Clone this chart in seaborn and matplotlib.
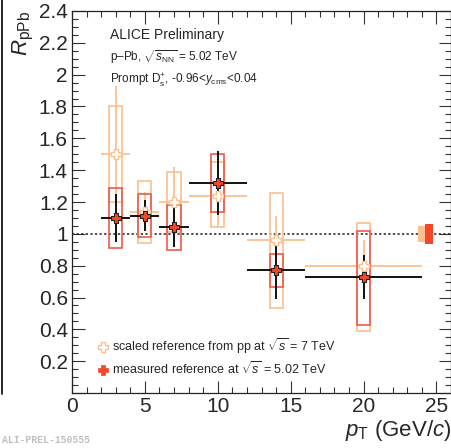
import seaborn as sns
import matplotlib.pyplot as plt
import numpy as np
import pandas as pd
from matplotlib.lines import Line2D
from matplotlib.ticker import MultipleLocator, FuncFormatter

# pT bins (GeV/c)
pt = np.array([3, 5, 7, 10, 14, 20])
pt_lo = np.array([2, 4, 6, 8, 12, 16])
pt_hi = np.array([4, 6, 8, 12, 16, 24])

# measured pp reference at 5.02 TeV
meas = np.array([1.10, 1.115, 1.04, 1.32, 0.77, 0.73])
meas_stat = np.array([0.15, 0.10, 0.12, 0.20, 0.18, 0.14])
meas_syst_lo = np.array([0.91, 0.98, 0.90, 1.14, 0.665, 0.43])
meas_syst_hi = np.array([1.29, 1.25, 1.18, 1.50, 0.876, 1.02])

# scaled pp reference from 7 TeV
scaled = np.array([1.50, 1.14, 1.20, 1.24, 0.96, 0.80])
scaled_stat = np.array([0.43, 0.12, 0.22, 0.20, 0.15, 0.16])
scaled_syst_lo = np.array([1.20, 0.94, 1.01, 1.04, 0.535, 0.39])
scaled_syst_hi = np.array([1.80, 1.33, 1.39, 1.45, 1.255, 1.07])

# normalisation uncertainties (scaled, measured)
norm_x = np.array([24.0, 24.5])
norm_unc = np.array([0.05, 0.063])

RED = "#f2472a"
RED_BOX = "#f0594a"
ORANGE = "#fbc08e"

sns.set_theme(style="ticks")
plt.rcParams["font.family"] = ["Liberation Sans", "DejaVu Sans"]
plt.rcParams["mathtext.fontset"] = "custom"
plt.rcParams["mathtext.rm"] = "Liberation Sans"
plt.rcParams["mathtext.it"] = "Liberation Sans:italic"

fig = plt.figure(figsize=(4.51, 4.48), dpi=100)
ax = fig.add_axes([72 / 451, 1 - 393 / 448, 379 / 451, 382 / 448])

# systematic boxes + stat bars
ax.bar(pt, scaled_syst_hi - scaled_syst_lo, bottom=scaled_syst_lo, width=0.9,
       fill=False, edgecolor=ORANGE, lw=1.2, zorder=2)
ax.errorbar(pt, scaled, yerr=scaled_stat, xerr=[pt - pt_lo, pt_hi - pt],
            fmt="none", ecolor=ORANGE, elinewidth=1.3, zorder=2)
ax.bar(pt, meas_syst_hi - meas_syst_lo, bottom=meas_syst_lo, width=0.9,
       fill=False, edgecolor=RED_BOX, lw=1.2, zorder=3)
ax.errorbar(pt, meas, yerr=meas_stat, xerr=[pt - pt_lo, pt_hi - pt],
            fmt="none", ecolor="#111111", elinewidth=1.4, zorder=4)

# normalisation boxes
ax.bar(norm_x, 2 * norm_unc, bottom=1 - norm_unc, width=0.5,
       color=[ORANGE, RED], edgecolor="none", zorder=3)

ax.axhline(1, color="#222222", lw=1.1, ls=(0, (1.5, 1.5)), zorder=1)

df_s = pd.DataFrame({"pt": pt, "val": scaled})
df_m = pd.DataFrame({"pt": pt, "val": meas})
sns.scatterplot(data=df_s, x="pt", y="val", marker="P", s=50, color="white",
                edgecolor=ORANGE, linewidth=1.0, ax=ax, zorder=5)
sns.scatterplot(data=df_m, x="pt", y="val", marker="P", s=50, color=RED,
                edgecolor="#222222", linewidth=0.8, ax=ax, zorder=6)

ax.set_xlim(0, 26)
ax.set_ylim(0, 2.4)
ax.xaxis.set_major_locator(MultipleLocator(5))
ax.xaxis.set_minor_locator(MultipleLocator(1))
ax.yaxis.set_major_locator(MultipleLocator(0.2))
ax.yaxis.set_minor_locator(MultipleLocator(0.05))
ax.yaxis.set_major_formatter(FuncFormatter(lambda v, p: "" if abs(v) < 1e-6 else f"{v:g}"))
ax.tick_params(which="both", direction="in", top=True, right=True,
               width=0.8, color="#333333", labelsize=15, pad=3)
ax.tick_params(which="major", length=9)
ax.tick_params(which="minor", length=4.5)
for sp in ax.spines.values():
    sp.set_linewidth(0.9)
    sp.set_color("#222222")

ax.set_xlabel(r"$p_{\rm T}$ (GeV/$c$)", fontsize=16, loc="right", labelpad=1)
ax.set_ylabel(r"$R_{\rm pPb}$", fontsize=16, loc="top", labelpad=2)

ax.text(0.10, 0.937, "ALICE Preliminary", transform=ax.transAxes,
        fontsize=10, va="center")
ax.text(0.10, 0.878, r"p–Pb, $\sqrt{s_{\rm NN}}$ = 5.02 TeV",
        transform=ax.transAxes, fontsize=8.5, va="center")
ax.text(0.10, 0.818, r"Prompt D$_{\rm s}^{+}$, -0.96<$y_{\rm cms}$<0.04",
        transform=ax.transAxes, fontsize=8.5, va="center")

handles = [
    Line2D([], [], marker="P", ls="none", markersize=7, markerfacecolor="white",
           markeredgecolor=ORANGE, markeredgewidth=1.0),
    Line2D([], [], marker="P", ls="none", markersize=7, markerfacecolor=RED,
           markeredgecolor=RED, markeredgewidth=0.5),
]
labels = [r"scaled reference from pp at $\sqrt{s}$ = 7 TeV",
          r"measured reference at $\sqrt{s}$ = 5.02 TeV"]
ax.legend(handles, labels, loc="lower left", bbox_to_anchor=(0.053, 0.028),
          frameon=False, fontsize=9, handletextpad=0.2, handlelength=1.0,
          labelspacing=0.35, borderaxespad=0)

fig.text(0.004, 0.012, "ALI-PREL-150555", fontsize=7, color="#c0c0c0",
         family="Liberation Mono", weight="bold")
fig.add_artist(Line2D([0.005, 0.005], [0.12, 1.0], color="black", lw=1.2))

fig.savefig("out.png", dpi=100)
